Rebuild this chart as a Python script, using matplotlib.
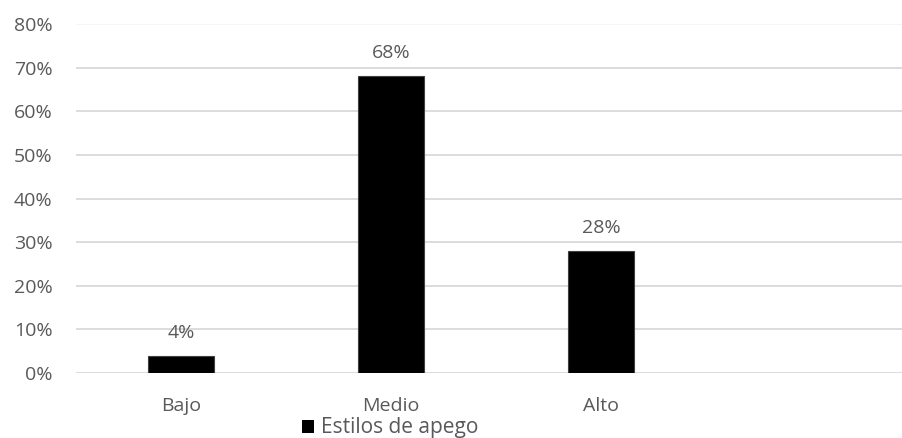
import matplotlib

matplotlib.use("Agg")
import matplotlib.pyplot as plt  # noqa: E402
from matplotlib.patches import Patch  # noqa: E402

categories = ["Bajo", "Medio", "Alto"]
values = [4, 68, 28]  # percent
series_name = "Estilos de apego"
yticks = [0, 10, 20, 30, 40, 50, 60, 70, 80]

plt.rcParams["font.family"] = ["Open Sans", "DejaVu Sans"]
txt = "#595959"

fig = plt.figure(figsize=(9.02, 4.38), dpi=100)
ax = fig.add_axes([76 / 902, 65 / 438, 826 / 902, 349 / 438])

x = range(len(categories))
bars = ax.bar(x, values, width=0.314, color="black", edgecolor="#404040", lw=0.8, zorder=3)
for b, v in zip(bars, values):
    ax.annotate(f"{v}%", (b.get_x() + b.get_width() / 2, v), xytext=(0, 23),
                textcoords="offset pixels", ha="center", va="center",
                fontsize=14, color=txt)

ax.set_xlim(-0.5, 826 / 210 - 0.5)
ax.set_ylim(0, 80)
ax.set_yticks(yticks)
ax.set_yticklabels([f"{t}%" for t in yticks])
ax.set_xticks(list(x))
ax.set_xticklabels(categories)
ax.tick_params(axis="both", length=0, labelsize=14, labelcolor=txt)
ax.tick_params(axis="x", pad=17)
ax.tick_params(axis="y", pad=17)
ax.grid(axis="y", color="#d9d9d9", lw=1.3, zorder=0)
ax.get_ygridlines()[-1].set_color("#f4f4f4")
for s in ax.spines.values():
    s.set_visible(False)

fig.legend(handles=[Patch(facecolor="black", label=series_name)], loc="center",
           bbox_to_anchor=(390 / 902, 1 - 428 / 438), frameon=False,
           fontsize=15, labelcolor=txt, handlelength=0.6, handleheight=0.6,
           handletextpad=0.3, borderpad=0)

fig.savefig("out.png", dpi=100)
